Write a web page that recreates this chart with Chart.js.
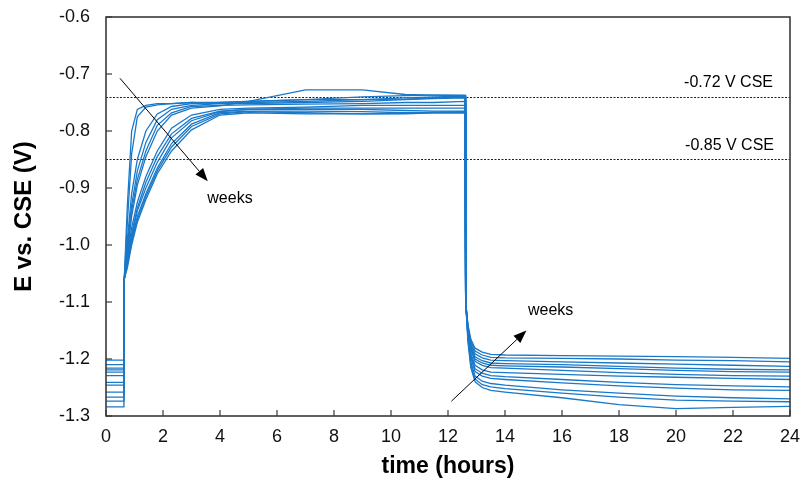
<!DOCTYPE html>
<html>
<head>
<meta charset="utf-8">
<script src="https://cdn.jsdelivr.net/npm/chart.js@4.4.0/dist/chart.umd.min.js"></script>
<style>
    body { margin: 0; background: #fff; }
    #wrap { width: 803px; height: 484px; }
</style>
</head>
<body>
<div id="wrap"><canvas id="potential-chart" width="803" height="484"></canvas></div>
<script>
// time stamps (hours) for the three phases of each run
const startTimes = [0, 0.63];
const riseTimes = [0.64, 0.75, 0.9, 1.1, 1.4, 1.8, 2.3, 3, 4, 5, 7, 9, 10.5, 11.5, 12.6];
const dropTimes = [12.62, 12.7, 12.8, 12.95, 13.2, 13.5, 14, 16, 18, 20, 22, 24];

// potential before polarisation (V vs CSE), one per week
const startLevels = [-1.284, -1.274, -1.267, -1.258, -1.246, -1.241, -1.229, -1.223, -1.219, -1.216, -1.21, -1.202];

// potential while current is on
const riseCurves = [
    [-1.06, -0.93, -0.80, -0.762, -0.755, -0.752, -0.752, -0.75, -0.75, -0.748, -0.745, -0.745, -0.744, -0.742, -0.741],
    [-1.06, -0.96, -0.84, -0.775, -0.758, -0.754, -0.752, -0.75, -0.752, -0.75, -0.748, -0.745, -0.742, -0.74, -0.739],
    [-1.06, -0.99, -0.91, -0.85, -0.80, -0.77, -0.757, -0.752, -0.75, -0.748, -0.745, -0.74, -0.738, -0.737, -0.737],
    [-1.06, -1.0, -0.93, -0.87, -0.82, -0.78, -0.762, -0.755, -0.752, -0.752, -0.75, -0.748, -0.745, -0.743, -0.742],
    [-1.06, -1.01, -0.94, -0.885, -0.835, -0.79, -0.768, -0.757, -0.755, -0.754, -0.753, -0.752, -0.75, -0.75, -0.748],
    [-1.06, -1.015, -0.95, -0.895, -0.845, -0.80, -0.772, -0.76, -0.756, -0.748, -0.728, -0.728, -0.736, -0.737, -0.738],
    [-1.06, -1.02, -0.97, -0.925, -0.88, -0.835, -0.795, -0.772, -0.762, -0.76, -0.758, -0.755, -0.755, -0.755, -0.755],
    [-1.06, -1.025, -0.98, -0.935, -0.89, -0.845, -0.805, -0.778, -0.765, -0.762, -0.76, -0.76, -0.76, -0.76, -0.76],
    [-1.06, -1.03, -0.985, -0.94, -0.9, -0.855, -0.812, -0.782, -0.766, -0.762, -0.762, -0.762, -0.764, -0.765, -0.765],
    [-1.06, -1.03, -0.99, -0.95, -0.91, -0.865, -0.822, -0.788, -0.768, -0.765, -0.765, -0.766, -0.768, -0.768, -0.768],
    [-1.06, -1.035, -0.995, -0.955, -0.915, -0.87, -0.828, -0.792, -0.77, -0.766, -0.768, -0.77, -0.77, -0.768, -0.768],
    [-1.06, -1.04, -1.0, -0.96, -0.92, -0.875, -0.835, -0.798, -0.772, -0.768, -0.77, -0.77, -0.769, -0.767, -0.766]
];

// potential after current is switched off
const dropCurves = [
    [-1.10, -1.17, -1.215, -1.24, -1.25, -1.255, -1.258, -1.268, -1.28, -1.287, -1.285, -1.283],
    [-1.10, -1.165, -1.21, -1.235, -1.245, -1.249, -1.252, -1.26, -1.267, -1.272, -1.274, -1.275],
    [-1.10, -1.16, -1.205, -1.23, -1.239, -1.243, -1.246, -1.254, -1.26, -1.265, -1.268, -1.27],
    [-1.10, -1.158, -1.198, -1.222, -1.23, -1.234, -1.236, -1.242, -1.247, -1.251, -1.254, -1.255],
    [-1.10, -1.155, -1.194, -1.217, -1.225, -1.229, -1.231, -1.236, -1.241, -1.245, -1.247, -1.249],
    [-1.10, -1.152, -1.19, -1.211, -1.219, -1.223, -1.224, -1.227, -1.23, -1.232, -1.234, -1.236],
    [-1.10, -1.15, -1.184, -1.204, -1.211, -1.215, -1.216, -1.22, -1.224, -1.227, -1.229, -1.23],
    [-1.10, -1.148, -1.18, -1.2, -1.207, -1.211, -1.212, -1.214, -1.217, -1.22, -1.222, -1.223],
    [-1.10, -1.146, -1.177, -1.196, -1.203, -1.207, -1.208, -1.21, -1.213, -1.216, -1.218, -1.219],
    [-1.10, -1.144, -1.173, -1.191, -1.198, -1.202, -1.203, -1.205, -1.207, -1.209, -1.211, -1.213],
    [-1.10, -1.142, -1.169, -1.186, -1.193, -1.197, -1.198, -1.199, -1.2, -1.202, -1.203, -1.205],
    [-1.10, -1.14, -1.165, -1.181, -1.188, -1.192, -1.193, -1.194, -1.195, -1.196, -1.197, -1.199]
];

// reference potentials drawn as dashed lines
const refValues = [-0.74, -0.85];
const refLabels = ['-0.72 V CSE', '-0.85 V CSE'];

const xTicks = [0, 2, 4, 6, 8, 10, 12, 14, 16, 18, 20, 22, 24];
const yTicks = [-0.6, -0.7, -0.8, -0.9, -1.0, -1.1, -1.2, -1.3];

document.addEventListener('DOMContentLoaded', () => {
    const ctx = document.getElementById('potential-chart').getContext('2d');
    const FONT = '"Liberation Sans", Arial, sans-serif';

    const datasets = startLevels.map((level, i) => {
        const pts = [];
        startTimes.forEach(t => pts.push({ x: t, y: level }));
        riseTimes.forEach((t, j) => pts.push({ x: t, y: riseCurves[i][j] }));
        dropTimes.forEach((t, j) => pts.push({ x: t, y: dropCurves[i][j] }));
        return {
            label: 'week ' + (i + 1),
            data: pts,
            borderColor: '#1a78c8',
            borderWidth: 1.3,
            pointRadius: 0,
            tension: 0,
            fill: false
        };
    });

    const drawArrow = (c, x1, y1, x2, y2) => {
        const ang = Math.atan2(y2 - y1, x2 - x1);
        const len = 13, half = 5;
        const bx = x2 - len * Math.cos(ang), by = y2 - len * Math.sin(ang);
        c.beginPath();
        c.moveTo(x1, y1);
        c.lineTo(bx, by);
        c.stroke();
        c.beginPath();
        c.moveTo(x2, y2);
        c.lineTo(bx + half * Math.sin(ang), by - half * Math.cos(ang));
        c.lineTo(bx - half * Math.sin(ang), by + half * Math.cos(ang));
        c.closePath();
        c.fill();
    };

    const decorPlugin = {
        id: 'decor',
        beforeDatasetsDraw(chart) {
            const c = chart.ctx;
            const { left, right } = chart.chartArea;
            const ys = chart.scales.y;
            c.save();
            c.strokeStyle = '#222';
            c.lineWidth = 1;
            c.setLineDash([2, 1.5]);
            refValues.forEach(v => {
                const py = Math.round(ys.getPixelForValue(v)) + 0.5;
                c.beginPath();
                c.moveTo(left, py);
                c.lineTo(right, py);
                c.stroke();
            });
            c.restore();
        },
        afterDatasetsDraw(chart) {
            const c = chart.ctx;
            const { left, right, top, bottom } = chart.chartArea;
            const xs = chart.scales.x, ys = chart.scales.y;
            c.save();
            // frame
            c.strokeStyle = '#3a3a3a';
            c.lineWidth = 1.6;
            c.strokeRect(left, top, right - left, bottom - top);
            // inward ticks
            c.lineWidth = 1.2;
            xTicks.forEach(t => {
                const px = xs.getPixelForValue(t);
                c.beginPath();
                c.moveTo(px, bottom);
                c.lineTo(px, bottom - 6);
                c.stroke();
            });
            yTicks.forEach(v => {
                const py = ys.getPixelForValue(v);
                c.beginPath();
                c.moveTo(left, py);
                c.lineTo(left + 6, py);
                c.stroke();
            });
            // reference labels
            c.fillStyle = '#000';
            c.font = '16px ' + FONT;
            c.textAlign = 'right';
            c.textBaseline = 'middle';
            c.fillText(refLabels[0], right - 17, ys.getPixelForValue(refValues[0]) - 14);
            c.fillText(refLabels[1], right - 16, ys.getPixelForValue(refValues[1]) - 14);
            // arrows and annotations
            c.strokeStyle = '#000';
            c.fillStyle = '#000';
            c.lineWidth = 1;
            drawArrow(c, xs.getPixelForValue(0.49), ys.getPixelForValue(-0.7075),
                xs.getPixelForValue(3.57), ys.getPixelForValue(-0.888));
            drawArrow(c, xs.getPixelForValue(12.12), ys.getPixelForValue(-1.274),
                xs.getPixelForValue(14.75), ys.getPixelForValue(-1.150));
            c.textAlign = 'center';
            c.fillText('weeks', xs.getPixelForValue(4.35), ys.getPixelForValue(-0.918));
            c.fillText('weeks', xs.getPixelForValue(15.6), ys.getPixelForValue(-1.115));
            c.restore();
        }
    };

    new Chart(ctx, {
        type: 'line',
        data: { datasets },
        options: {
            responsive: false,
            animation: false,
            events: [],
            layout: { padding: { top: 17, right: 13, left: 0, bottom: 0 } },
            plugins: { legend: { display: false }, tooltip: { enabled: false } },
            scales: {
                x: {
                    type: 'linear',
                    min: 0,
                    max: 24,
                    afterBuildTicks: s => { s.ticks = xTicks.map(v => ({ value: v })); },
                    afterFit: s => { s.height = 68; s.paddingLeft = 0; s.paddingRight = 0; },
                    grid: { display: false, drawTicks: false },
                    border: { display: false },
                    ticks: {
                        color: '#111',
                        font: { family: FONT, size: 18 },
                        padding: 10,
                        maxRotation: 0,
                        callback: v => String(v)
                    },
                    title: {
                        display: true,
                        text: 'time (hours)',
                        color: '#000',
                        font: { family: FONT, size: 23, weight: 'bold' },
                        padding: { top: 2 }
                    }
                },
                y: {
                    type: 'linear',
                    min: -1.3,
                    max: -0.6,
                    afterBuildTicks: s => { s.ticks = yTicks.map(v => ({ value: v })); },
                    afterFit: s => { s.width = 106; s.paddingTop = 0; s.paddingBottom = 0; },
                    grid: { display: false, drawTicks: false },
                    border: { display: false },
                    ticks: {
                        color: '#111',
                        font: { family: FONT, size: 18 },
                        padding: 16,
                        callback: v => v.toFixed(1)
                    },
                    title: {
                        display: true,
                        text: 'E vs. CSE (V)',
                        color: '#000',
                        font: { family: FONT, size: 24, weight: 'bold' },
                        padding: { top: 10, bottom: 0 }
                    }
                }
            }
        },
        plugins: [decorPlugin]
    });
});
</script>
</body>
</html>
